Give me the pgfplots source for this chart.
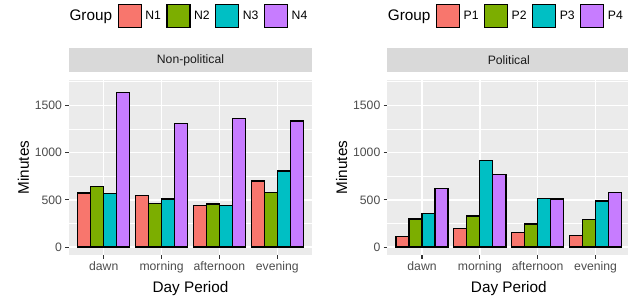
\documentclass[border=0pt]{standalone}
\usepackage{pgfplots}
\pgfplotsset{compat=1.18}
\usepackage{fontspec}
\setmainfont{Liberation Sans}
\definecolor{cA}{HTML}{F8766D}
\definecolor{cB}{HTML}{7CAE00}
\definecolor{cC}{HTML}{00BFC4}
\definecolor{cD}{HTML}{C77CFF}
\definecolor{panelbg}{HTML}{EBEBEB}
\definecolor{stripbg}{HTML}{D9D9D9}
\definecolor{gray30}{HTML}{4D4D4D}
\definecolor{gray20}{HTML}{333333}
\definecolor{gray10}{HTML}{1A1A1A}
\pgfplotsset{
  facet/.style={
    width=243pt, height=175pt, scale only axis,
    anchor=south west,
    xmin=0.4, xmax=4.6, ymin=-84, ymax=1768,
    xtick={1,2,3,4},
    xticklabels={dawn,morning,afternoon,evening},
    ytick={0,500,1000,1500},
    minor ytick={250,750,1250,1750},
    /pgf/number format/assume math mode=true,
    /pgf/number format/1000 sep={},
    axis background/.style={fill=panelbg},
    axis line style={draw=none},
    xmajorgrids, ymajorgrids, yminorgrids,
    major grid style={white, line width=1.5pt},
    minor grid style={white, line width=0.75pt},
    tick align=outside, xtick pos=bottom, ytick pos=left,
    major tick length=3.8pt, minor tick length=0pt,
    tick style={gray20, line width=1.1pt},
    ticklabel style={font=\fontsize{12.2}{14}\selectfont, text=gray30, inner sep=0pt},
    yticklabel style={xshift=-3pt},
    xticklabel style={yshift=-3pt},
    xlabel={Day Period}, ylabel={Minutes},
    xlabel style={at={(axis description cs:0.5,-0.2154)}, anchor=base,
      font=\fontsize{15.3}{17}\selectfont, text=black, inner sep=0pt},
    ylabel style={at={(axis description cs:-0.1638,0.5)}, anchor=south, rotate=0,
      font=\fontsize{15.3}{17}\selectfont, text=black, inner sep=0pt},
    title style={at={(axis description cs:0.5,1)}, anchor=south, yshift=1.7pt,
      fill=stripbg, minimum width=243pt, minimum height=24.3pt, inner sep=0pt,
      font=\fontsize{12.2}{14}\selectfont, text=gray10},
    ybar=0pt, bar width=0.225,
    every axis plot/.append style={draw=black, line width=1.2pt},
    legend columns=-1,
    legend style={draw=none, fill=none, inner sep=0pt, outer sep=0pt,
      anchor=west, at={(axis description cs:-0.012,1.366)},
      nodes={inner sep=0pt, font=\fontsize{12.2}{14}\selectfont},
      column sep=3.5pt,
      /tikz/every even column/.append style={column sep=5.5pt}},
    legend image code/.code={\draw[#1] (0pt,-11.5pt) rectangle (23pt,11.5pt);},
  }
}
\begin{document}
\begin{tikzpicture}
\useasboundingbox (0,0) rectangle (628pt,297pt);
\begin{axis}[facet, at={(69pt,42pt)}, title={Non-political}]
\addlegendimage{empty legend}
\addlegendentry{\fontsize{15.3}{17}\selectfont Group}
\addplot[fill=cA] coordinates {(1,573) (2,548) (3,442) (4,700)};
\addlegendentry{N1}
\addplot[fill=cB] coordinates {(1,637) (2,460) (3,456) (4,575)};
\addlegendentry{N2}
\addplot[fill=cC] coordinates {(1,566) (2,509) (3,439) (4,806)};
\addlegendentry{N3}
\addplot[fill=cD] coordinates {(1,1634) (2,1309) (3,1358) (4,1334)};
\addlegendentry{N4}
\end{axis}
\begin{axis}[facet, at={(387.3pt,42pt)}, title={Political}]
\addlegendimage{empty legend}
\addlegendentry{\fontsize{15.3}{17}\selectfont Group}
\addplot[fill=cA] coordinates {(1,113) (2,195) (3,156) (4,120)};
\addlegendentry{P1}
\addplot[fill=cB] coordinates {(1,297) (2,329) (3,244) (4,294)};
\addlegendentry{P2}
\addplot[fill=cC] coordinates {(1,354) (2,920) (3,516) (4,488)};
\addlegendentry{P3}
\addplot[fill=cD] coordinates {(1,619) (2,771) (3,509) (4,580)};
\addlegendentry{P4}
\end{axis}
\end{tikzpicture}
\end{document}
